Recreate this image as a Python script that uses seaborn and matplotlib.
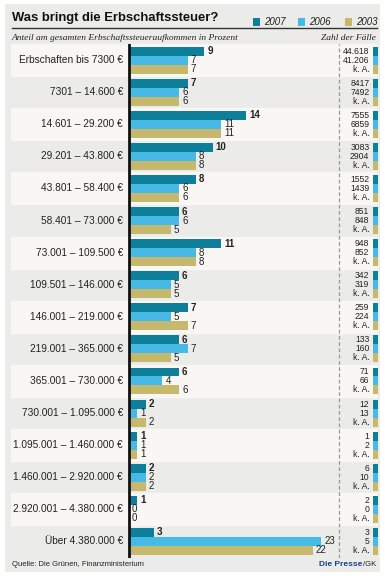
import seaborn as sns
import pandas as pd
import matplotlib.pyplot as plt
from matplotlib.patches import Rectangle

cats = ["Erbschaften bis 7300 €", "7301 – 14.600 €", "14.601 – 29.200 €", "29.201 – 43.800 €",
        "43.801 – 58.400 €", "58.401 – 73.000 €", "73.001 – 109.500 €", "109.501 – 146.000 €",
        "146.001 – 219.000 €", "219.001 – 365.000 €", "365.001 – 730.000 €",
        "730.001 – 1.095.000 €", "1.095.001 – 1.460.000 €", "1.460.001 – 2.920.000 €",
        "2.920.001 – 4.380.000 €", "Über 4.380.000 €"]
years = ["2007", "2006", "2003"]
v2007 = [9, 7, 14, 10, 8, 6, 11, 6, 7, 6, 6, 2, 1, 2, 1, 3]
v2006 = [7, 6, 11, 8, 6, 6, 8, 5, 5, 7, 4, 1, 1, 2, 0, 23]
v2003 = [7, 6, 11, 8, 6, 5, 8, 5, 7, 5, 6, 2, 1, 2, 0, 22]
faelle2007 = ["44.618", "8417", "7555", "3083", "1552", "851", "948", "342", "259", "133",
              "71", "12", "1", "6", "2", "3"]
faelle2006 = ["41.206", "7492", "6859", "2904", "1439", "848", "852", "319", "224", "160",
              "66", "13", "2", "10", "0", "5"]
faelle2003 = ["k. A."] * 16

colors = ["#0e7f9b", "#46b9e4", "#c6b96d"]
sans = ["Liberation Sans", "DejaVu Sans"]

df = pd.DataFrame({
    "cat": cats * 3,
    "val": v2007 + v2006 + v2003,
    "year": ["2007"] * 16 + ["2006"] * 16 + ["2003"] * 16,
})

fig = plt.figure(figsize=(3.85, 5.76), dpi=100, facecolor="white")
fig.patches.append(Rectangle((5 / 385, 4 / 576), 375 / 385, 568 / 576, transform=fig.transFigure,
                             facecolor="#ebebe9", edgecolor="none", zorder=-10))

ax = fig.add_axes([11 / 385, (576 - 557.5) / 576, 367 / 385, 513.5 / 576])
ax.set_facecolor("none")
sns.barplot(data=df, y="cat", x="val", hue="year", hue_order=years, palette=colors,
            orient="h", width=0.84, ax=ax, legend=False, saturation=1, edgecolor="none")
ax.set_xlim((11 - 129) / 8.36, (378 - 129) / 8.36)
ax.set_ylim(len(cats) - 0.5, -0.5)
for i in range(len(cats)):
    if i % 2 == 0:
        ax.axhspan(i - 0.5, i + 0.5, color="#f9f6f3", zorder=0)
for s in ax.spines.values():
    s.set_visible(False)
ax.set_xticks([])
ax.set_yticks([])
ax.set_xlabel("")
ax.set_ylabel("")
ax.axvline(0, color="#111111", lw=2, zorder=5)
ax.axvline(25.15, color="#999999", lw=0.9, ls=(0, (3, 2)), zorder=1)

for i, c in enumerate(cats):
    ax.text(-0.72, i, c, ha="right", va="center", fontsize=7.3, color="#222222", family=sans)

faelle = [faelle2007, faelle2006, faelle2003]
for k, cont in enumerate(ax.containers):
    for i, bar in enumerate(cont):
        y = bar.get_y() + bar.get_height() / 2
        w = bar.get_width()
        ax.text(w + 0.35, y, f"{w:.0f}", ha="left", va="center", fontsize=7,
                fontweight="bold" if k == 0 else "normal", color="#222222", family=sans)
        ax.text(28.75, y, faelle[k][i], ha="right", va="center", fontsize=6.2,
                color="#222222", family=sans)
        ax.add_patch(Rectangle((29.24, bar.get_y()), 0.5, bar.get_height(),
                               facecolor=colors[k], edgecolor="none", clip_on=False))

# header
fig.text(12 / 385, 1 - 18.5 / 576, "Was bringt die Erbschaftssteuer?", fontsize=9.4,
         fontweight="bold", color="#111111", family=sans, va="center")
fig.add_artist(plt.Line2D([12 / 385, 377 / 385], [1 - 28 / 576] * 2, color="#333333", lw=1))
for (x0, lab), col in zip([(253, "2007"), (298, "2006"), (345, "2003")], colors):
    fig.patches.append(Rectangle((x0 / 385, 1 - 26 / 576), 7 / 385, 8 / 576,
                                 transform=fig.transFigure, facecolor=col, edgecolor="none"))
    fig.text((x0 + 11) / 385, 1 - 22 / 576, lab, fontsize=7, style="italic", color="#222222",
             family=sans, va="center")
fig.text(12 / 385, 1 - 37.5 / 576, "Anteil am gesamten Erbschaftssteueraufkommen in Prozent",
         fontsize=6.8, style="italic", family="Liberation Serif", color="#222222", va="center")
fig.text(376 / 385, 1 - 37.5 / 576, "Zahl der Fälle", fontsize=6.8, style="italic",
         family="Liberation Serif", color="#222222", va="center", ha="right")

# footer
fig.text(12 / 385, 1 - 564 / 576, "Quelle: Die Grünen, Finanzministerium", fontsize=5.5,
         color="#222222", family=sans, va="center")
fig.text(376 / 385, 1 - 564 / 576, "/GK", fontsize=5.5, color="#222222", family=sans,
         va="center", ha="right")
fig.text(362 / 385, 1 - 564 / 576, "Die Presse", fontsize=6, fontweight="bold",
         color="#1b3f8f", family=sans, va="center", ha="right")

fig.savefig("out.png", dpi=100, facecolor=fig.get_facecolor())
